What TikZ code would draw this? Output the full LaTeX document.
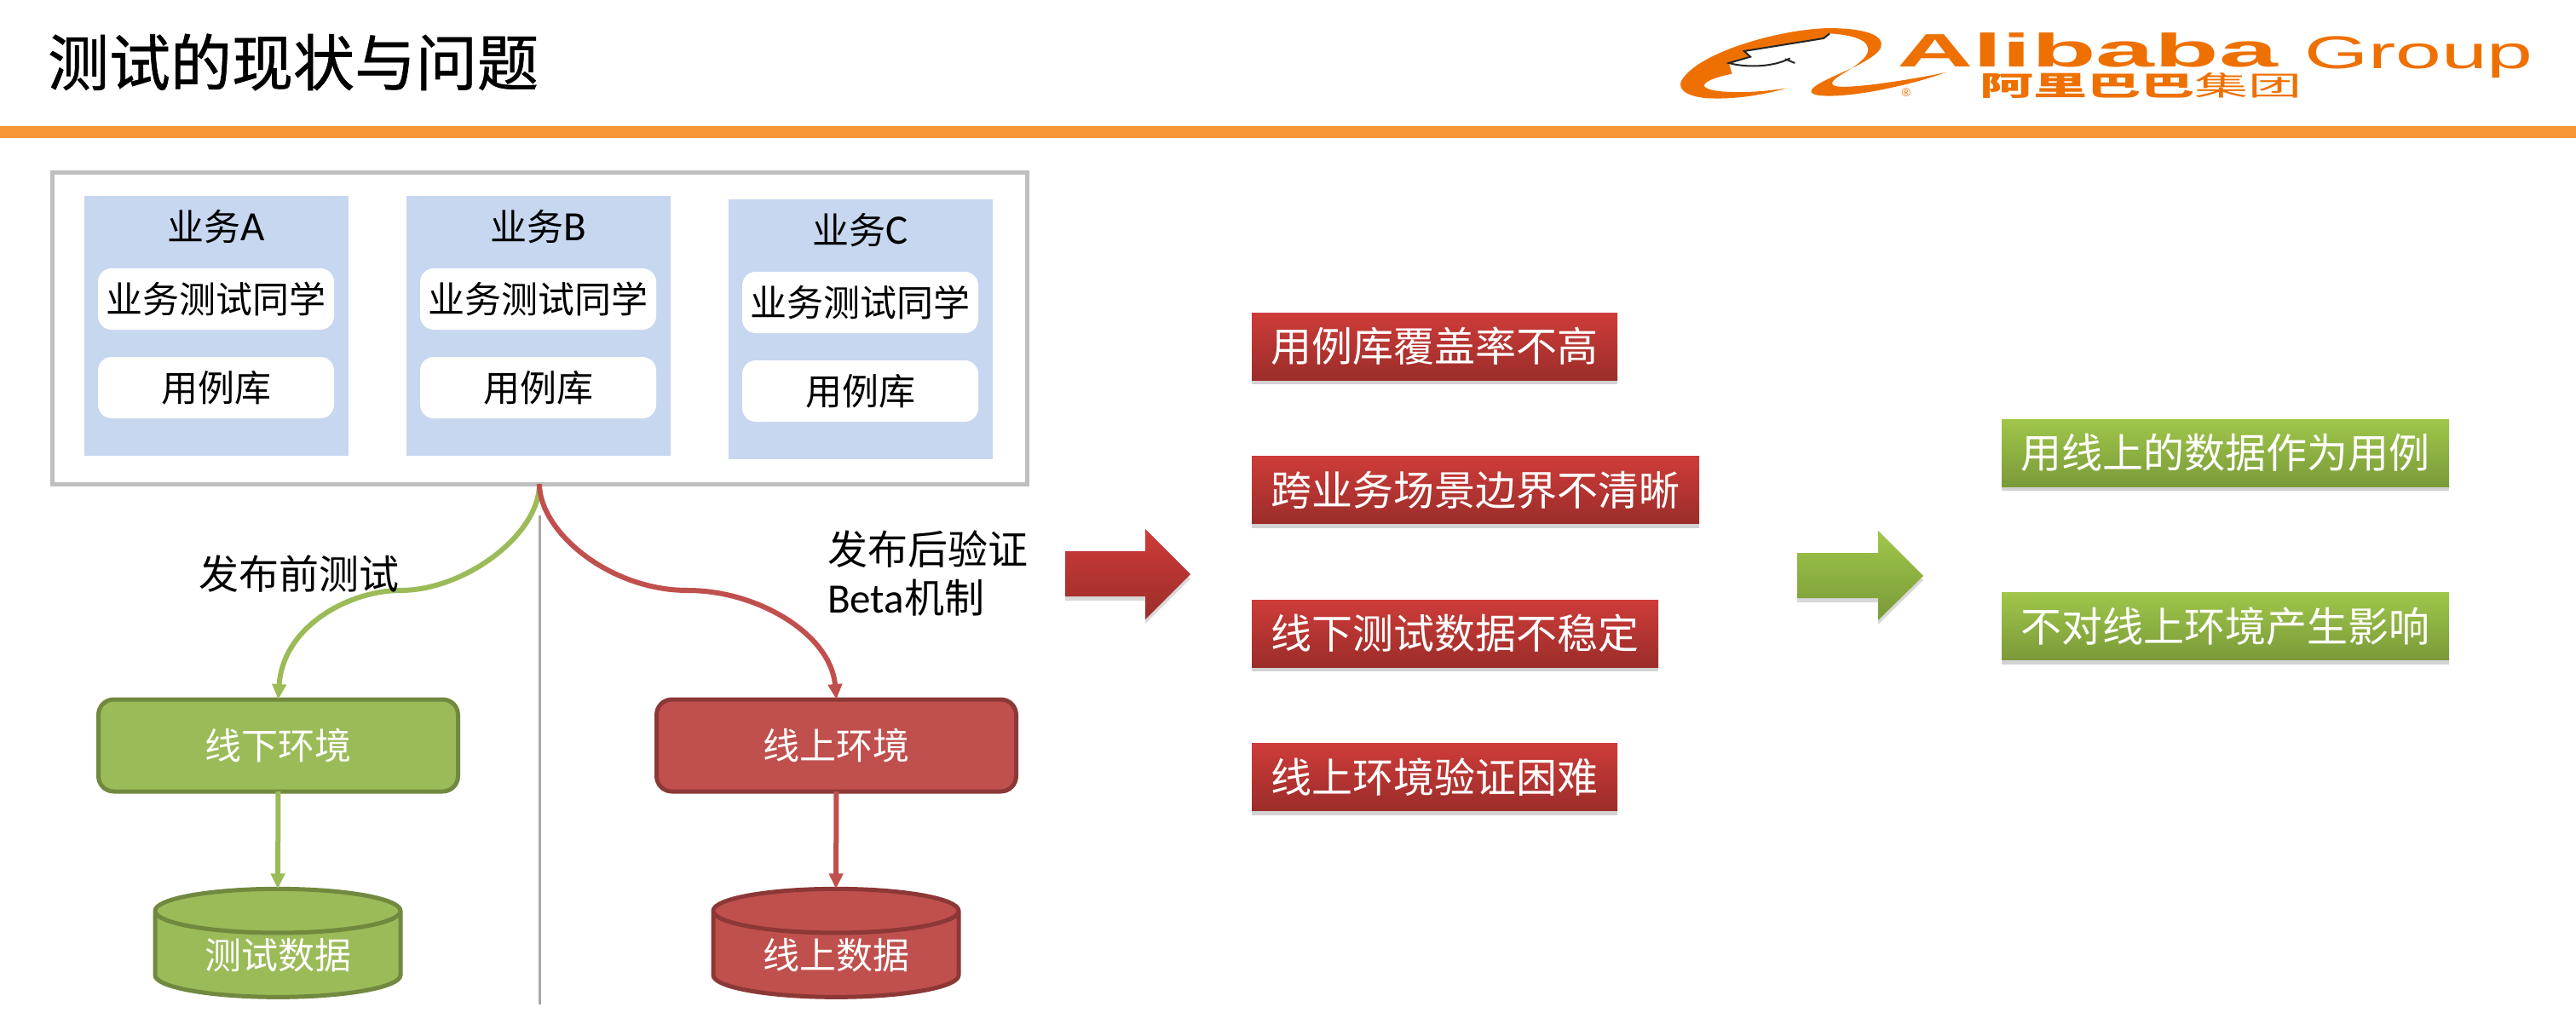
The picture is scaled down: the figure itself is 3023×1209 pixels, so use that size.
\documentclass[tikz,border=0pt]{standalone}
\usepackage{fontspec}
\setmainfont{Noto Sans CJK SC}
\newfontfamily\logolat{Liberation Sans}
\newfontfamily\latfont{Carlito}
\newfontfamily\titlefont[FakeBold=0.8]{Noto Sans CJK SC}
\usetikzlibrary{arrows.meta,shapes.geometric,shadows}
\definecolor{gfill}{HTML}{9BBB59}
\definecolor{gdark}{HTML}{71893F}
\definecolor{rfill}{HTML}{C0504D}
\definecolor{rdark}{HTML}{8C3836}
\definecolor{blueback}{HTML}{C6D7EF}
\definecolor{framegray}{HTML}{BFBFBF}
\definecolor{bar}{HTML}{F99635}
\definecolor{logoorange}{HTML}{EE7000}
\definecolor{rtop}{HTML}{CE3C39}
\definecolor{rbot}{HTML}{9B2D2A}
\definecolor{gtop}{HTML}{A0C64A}
\definecolor{gbot}{HTML}{7A9A39}
\tikzset{
  base/.style={inner sep=0pt,outer sep=0pt,align=center},
  frame/.style={base,draw=framegray,line width=2.5pt,fill=white,minimum width=572pt,minimum height=182.5pt},
  bizback/.style={base,fill=blueback,minimum width=155pt,minimum height=152.5pt},
  bizlabel/.style={base,font=\fontsize{21.5pt}{24pt}\selectfont},
  inner/.style={base,fill=white,rounded corners=8pt,minimum width=138.5pt,minimum height=36pt,font=\fontsize{21.5pt}{24pt}\selectfont},
  envbox/.style={base,line width=2.5pt,rounded corners=9pt,minimum width=211pt,minimum height=54pt,text=white,font=\fontsize{21.5pt}{24pt}\selectfont},
  genv/.style={envbox,draw=gdark,fill=gfill},
  renv/.style={envbox,draw=rdark,fill=rfill},
  dbshape/.style={base,cylinder,shape border rotate=90,aspect=0.3,line width=2.5pt,minimum width=144pt,minimum height=63.5pt,text=white,font=\fontsize{21.5pt}{24pt}\selectfont},
  gdb/.style={dbshape,draw=gdark,fill=gfill},
  rdb/.style={dbshape,draw=rdark,fill=rfill},
  flow/.style={line width=3pt,-{Triangle[length=9pt,width=8pt]}},
  note/.style={base,font=\fontsize{23.5pt}{26pt}\selectfont},
  chip/.style={base,minimum height=39.5pt,text=white,font=\fontsize{24pt}{26pt}\selectfont,drop shadow={shadow xshift=0pt,shadow yshift=-2.5pt,opacity=.35}},
  rchip/.style={chip,top color=rtop,bottom color=rbot},
  gchip/.style={chip,top color=gtop,bottom color=gbot},
  bigarrow/.style={drop shadow={shadow xshift=0pt,shadow yshift=-2.5pt,opacity=.3}},
}
\newcommand{\latin}[1]{{\latfont\fontsize{24.5pt}{26pt}\selectfont #1}}
\begin{document}
\begin{tikzpicture}[x=0.5pt,y=-0.5pt]
\useasboundingbox (0,0) rectangle (3023,1209);
\fill[white] (0,0) rectangle (3023,1209);
% header
\node[base,anchor=west,font=\titlefont\fontsize{36pt}{40pt}\selectfont] (title) at (56,73) {测试的现状与问题};
\fill[bar] (0,148) rectangle (3023,162);
% logo
\begin{scope}[shift={(1900,0)},x=0.3582pt,y=-0.16667pt]
\fill[logoorange] (275,310) .. controls (220,345) and (170,350) .. (140,345)
  .. controls (100,335) and (95,300) .. (105,275)
  .. controls (140,170) and (290,90) .. (360,100)
  .. controls (420,105) and (440,140) .. (425,180)
  .. controls (400,240) and (310,290) .. (315,325)
  .. controls (320,345) and (370,340) .. (420,320)
  .. controls (470,300) and (510,275) .. (535,255)
  .. controls (480,280) and (390,310) .. (360,305)
  .. controls (340,300) and (350,280) .. (370,255)
  .. controls (400,215) and (420,180) .. (400,145)
  .. controls (385,125) and (360,120) .. (345,118)
  -- (335,135) -- (205,180) -- (215,200) -- (180,222) -- (185,260)
  .. controls (160,270) and (135,290) .. (140,305)
  .. controls (150,330) and (220,330) .. (275,310) -- cycle;
\draw[black!85,line width=1pt] (345,118) -- (335,135) -- (205,180) -- (215,200) -- (180,222) .. controls (210,240) and (255,235) .. (280,205) (272,208) -- (288,222);
\end{scope}
\node[base,anchor=west,xscale=2.25,transform shape,text=logoorange,font=\logolat\bfseries\fontsize{27.5pt}{30pt}\selectfont] (alibaba) at (2226,59) {Alibaba};
\node[base,anchor=west,xscale=1.79,transform shape,text=logoorange,font=\logolat\fontsize{27pt}{30pt}\selectfont] (group) at (2704,67) {Group};
\node[base,anchor=west,xscale=1.97,transform shape,text=logoorange,font=\fontsize{16pt}{18pt}\selectfont] (cnlogo) at (2323,101) {\bfseries 阿里巴巴\mdseries 集团};
\node[base,text=logoorange,font=\logolat\fontsize{7pt}{8pt}\selectfont] (reg) at (2237,109) {®};
% business frame
\node[frame] (outer) at (633,385.5) {};
\node[bizback] (bizA) at (254,382.5) {};
\node[bizback] (bizB) at (632,382.5) {};
\node[bizback] (bizC) at (1010,386.5) {};
\node[bizlabel] (labA) at (254,266) {业务\latin{A}};
\node[bizlabel] (labB) at (632,266) {业务\latin{B}};
\node[bizlabel] (labC) at (1010,270) {业务\latin{C}};
\node[inner] (stA) at (253.5,351) {业务测试同学};
\node[inner] (caseA) at (253.5,455) {用例库};
\node[inner] (stB) at (631.5,351) {业务测试同学};
\node[inner] (caseB) at (631.5,455) {用例库};
\node[inner] (stC) at (1009.5,355) {业务测试同学};
\node[inner] (caseC) at (1009.5,459) {用例库};
% divider
\coordinate (divtop) at (633,605);
\coordinate (divbot) at (633,1179);
\draw[black!35,line width=1.5pt] (divtop) -- (divbot);
% environments
\node[genv] (offenv) at (326.5,875) {线下环境};
\node[renv] (onenv) at (981.5,875) {线上环境};
\node[gdb] (testdata) at (326,1121) {测试数据};
\node[rdb] (ondata) at (981,1121) {线上数据};
\coordinate (gmid) at (470,693);
\coordinate (rmid) at (807,693);
\draw[flow,gfill] (outer.south) .. controls ([yshift=-30pt]outer.south) and (545,693) .. (gmid) .. controls (410,693) and (332,735) .. (offenv.north);
\draw[flow,rfill] (outer.south) .. controls ([yshift=-28pt]outer.south) and (715,693) .. (rmid) .. controls (890,693) and (975,745) .. (onenv.north);
\draw[flow,gfill] (offenv.south) -- (testdata.north);
\draw[flow,rfill] (onenv.south) -- (ondata.north);
\node[note] (pre) at (351,674) {发布前测试};
\node[note,anchor=west] (post) at (971,645) {发布后验证};
\node[note,anchor=west] (beta) at (971,702) {\latin{Beta}机制};
% big arrows
\path[bigarrow,top color=rtop,bottom color=rbot] (1250,647) -- (1344,647) -- (1344,621) -- (1397,674) -- (1344,727) -- (1344,700) -- (1250,700) -- cycle;
\path[bigarrow,top color=gtop,bottom color=gbot] (2109,649) -- (2204,649) -- (2204,623) -- (2257,676) -- (2204,728) -- (2204,702) -- (2109,702) -- cycle;
% problem chips
\node[rchip,minimum width=214.5pt] (p1) at (1683.5,406.5) {用例库覆盖率不高};
\node[rchip,minimum width=262.5pt] (p2) at (1731.5,575) {跨业务场景边界不清晰};
\node[rchip,minimum width=238.5pt] (p3) at (1707.5,743.5) {线下测试数据不稳定};
\node[rchip,minimum width=214.5pt] (p4) at (1683.5,912) {线上环境验证困难};
% solution chips
\node[gchip,minimum width=262.5pt] (s1) at (2611.5,531.5) {用线上的数据作为用例};
\node[gchip,minimum width=262.5pt] (s2) at (2611.5,735) {不对线上环境产生影响};
\end{tikzpicture}
\end{document}
